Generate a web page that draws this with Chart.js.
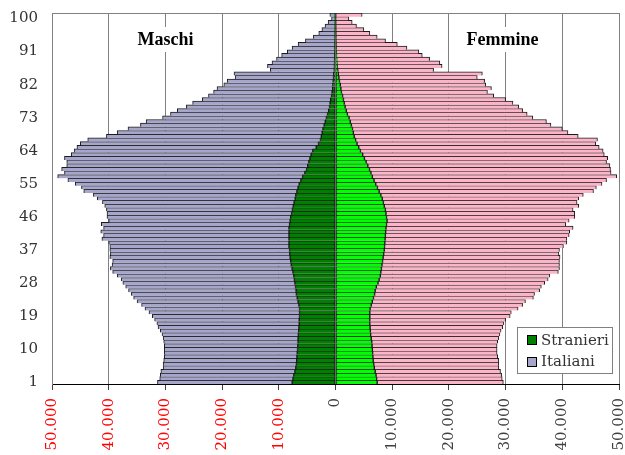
<!DOCTYPE html>
<html>
<head>
<meta charset="utf-8">
<script src="https://cdn.jsdelivr.net/npm/chart.js@4.4.1/dist/chart.umd.min.js"></script>
<style>
html,body{margin:0;padding:0;background:#fff;}
#wrap{width:625px;height:455px;}
</style>
</head>
<body>
<div id="wrap"><canvas id="c" width="625" height="455"></canvas></div>
<script>
// Categories: default Excel numbering 1..101 (ages 0..100+), bottom to top
const categories = Array.from({length: 101}, (_, i) => String(i + 1));
const tickLabels = ['1','10','19','28','37','46','55','64','73','82','91','100'];
const xTicks = [-50000,-40000,-30000,-20000,-10000,0,10000,20000,30000,40000,50000];

// Values listed from category "1" (bottom) to "101" (top)
const maschiStranieri = [
 7650,7500,7350,7150,7000,6900,6850,6800,6750,6700,
 6650,6600,6600,6550,6500,6450,6400,6400,6350,6350,
 6350,6450,6600,6750,6900,6950,7050,7150,7250,7350,
 7500,7650,7800,7900,8000,8050,8100,8200,8200,8200,
 8200,8200,8200,8100,8000,7900,7750,7600,7450,7300,
 7100,7000,6800,6600,6400,6100,5800,5400,5100,4900,
 4700,4500,4300,4000,3400,3000,2650,2500,2350,2200,
 2000,1800,1600,1400,1200,1050,950,850,700,600,
 500,450,400,350,300,210,190,170,150,130,
 110,100,90,80,70,60,50,40,30,20,
 30];
const maschiItaliani = [
 23750,23500,23550,23650,23400,23500,23450,23400,23450,23500,
 23550,23700,23800,24050,24400,24850,25100,25500,25950,26550,
 27250,27750,28400,28850,29100,29550,29950,30350,30550,31150,
 31800,32050,31600,31400,31800,31650,31700,31600,31800,33000,
 32700,33200,32700,33200,32000,32400,32550,32800,33250,33800,
 34900,35700,37600,38200,39500,41100,43200,42400,43200,42500,
 42700,43300,42300,42100,42200,42000,41050,37900,36150,34400,
 32400,31600,28900,27700,26700,25250,24250,22650,21700,20900,
 20400,19250,18700,17350,17600,11290,11810,11030,10250,9370,
 8390,7550,6510,5220,3830,2890,2350,1810,1270,680,
 970];
const femmineStranieri = [
 7350,7250,7150,7000,6850,6750,6650,6600,6550,6500,
 6450,6400,6300,6200,6150,6100,6050,6050,6050,6050,
 6100,6300,6500,6700,6900,7000,7200,7500,7700,7900,
 8000,8100,8200,8300,8400,8500,8600,8650,8700,8750,
 8800,8850,8900,9000,9100,9000,8900,8800,8600,8450,
 8250,8000,7700,7400,7100,6800,6500,6250,6000,5700,
 5400,5100,4800,4400,4100,3800,3550,3300,3150,3000,
 2800,2600,2400,2100,1900,1700,1550,1400,1250,1050,
 950,850,700,600,500,400,280,240,200,170,
 140,120,100,80,70,60,50,40,30,20,
 30];
const femmineItaliani = [
 22250,22150,22150,22100,21950,22050,22150,22000,21950,22000,
 22050,22200,22500,22800,23050,23400,23650,23950,24750,24950,
 26100,26700,27000,28200,28200,29000,29100,29400,29800,29900,
 31300,31400,31300,31200,31200,30900,30900,31550,32100,32050,
 32400,32450,33000,31600,32100,33200,33300,33100,34300,34150,
 34650,35700,37800,38600,39900,41000,43100,42350,42500,42700,
 42400,42900,42600,42800,42400,42100,42650,39500,37850,37000,
 35200,34600,32400,31700,31100,30600,29750,28600,26650,25750,
 26550,25650,25600,24400,25400,16900,18520,18160,16400,15130,
 14560,12480,10800,8740,7280,6000,4950,3660,2910,2330,
 4670];

const C_M_STR = '#008000', C_F_STR = '#00ff00', C_M_ITA = '#a5a6c9', C_F_ITA = '#fcb4c9';

function fmt(v){ return String(Math.abs(v)).replace(/\B(?=(\d{3})+(?!\d))/g, '.'); }

const barCommon = {
  stack: 'pop',
  borderColor: '#1a1a1a',
  borderWidth: {top: 1, bottom: 0, left: 1, right: 1},
  borderSkipped: false,
  barPercentage: 1,
  categoryPercentage: 1
};

const overlay = {
  id: 'overlay',
  beforeDatasetsDraw(chart) {
    const {ctx, chartArea: a} = chart;
    ctx.save();
    ctx.strokeStyle = '#808080';
    ctx.lineWidth = 1;
    ctx.beginPath();
    ctx.moveTo(a.left, Math.round(a.top) + 0.5);
    ctx.lineTo(a.right, Math.round(a.top) + 0.5);
    ctx.stroke();
    ctx.restore();
  },
  afterDatasetsDraw(chart) {
    const {ctx, chartArea: a, scales: {x}} = chart;
    ctx.save();
    ctx.font = 'bold 18px "Liberation Serif"';
    ctx.textAlign = 'center';
    ctx.textBaseline = 'middle';
    [[-30000, 'Maschi'], [30000, 'Femmine']].forEach(([v, t]) => {
      const cx = x.getPixelForValue(v) - (v > 0 ? 3 : 0);
      const cy = a.top + 26.5;
      const w = ctx.measureText(t).width;
      ctx.fillStyle = '#fff';
      ctx.fillRect(cx - w / 2 - 2, cy - 12.5, w + 4, 25);
      ctx.fillStyle = '#000';
      ctx.fillText(t, cx, cy + 1);
    });
    // legend box
    const lw = 95, lh = 46;
    const lx = Math.round(a.right - 102), ly = Math.round(a.bottom - 57);
    ctx.fillStyle = '#fff';
    ctx.fillRect(lx, ly, lw, lh);
    ctx.strokeStyle = '#808080';
    ctx.lineWidth = 1;
    ctx.strokeRect(lx + 0.5, ly + 0.5, lw, lh);
    const items = [['Stranieri', C_M_STR, 13], ['Italiani', C_M_ITA, 34.5]];
    ctx.font = '15px "DejaVu Serif"';
    ctx.textAlign = 'left';
    items.forEach(([t, col, dy]) => {
      const sy = Math.round(ly + dy - 5);
      ctx.fillStyle = col;
      ctx.fillRect(lx + 10, sy, 10, 10);
      ctx.strokeStyle = '#000';
      ctx.strokeRect(lx + 10.5, sy + 0.5, 9, 9);
      ctx.fillStyle = '#333';
      ctx.fillText(t, lx + 24, ly + dy + 1);
    });
    ctx.restore();
  }
};

new Chart(document.getElementById('c'), {
  type: 'bar',
  data: {
    labels: categories,
    datasets: [
      Object.assign({label: 'Stranieri', data: maschiStranieri.map(v => -v), backgroundColor: C_M_STR}, barCommon),
      Object.assign({label: 'Stranieri F', data: femmineStranieri, backgroundColor: C_F_STR}, barCommon),
      Object.assign({label: 'Italiani', data: maschiItaliani.map(v => -v), backgroundColor: C_M_ITA}, barCommon),
      Object.assign({label: 'Italiani F', data: femmineItaliani, backgroundColor: C_F_ITA}, barCommon)
    ]
  },
  options: {
    indexAxis: 'y',
    responsive: false,
    animation: false,
    layout: {padding: {top: 13, right: 6, left: 0, bottom: 0}},
    plugins: {legend: {display: false}, tooltip: {enabled: false}},
    scales: {
      x: {
        stacked: true,
        min: -50000, max: 50000,
        afterBuildTicks(scale) { scale.ticks = xTicks.map(v => ({value: v})); },
        afterFit(scale) { scale.height = 71; scale.paddingLeft = 0; scale.paddingRight = 0; },
        grid: {color: '#808080', tickLength: 6, tickColor: '#404040', lineWidth: 1},
        border: {color: '#000', width: 1},
        ticks: {
          autoSkip: false,
          minRotation: 90, maxRotation: 90,
          padding: 8,
          font: {family: '"DejaVu Serif"', size: 15},
          color: ctx => (ctx.tick && ctx.tick.value < 0) ? '#ff0000' : '#404040',
          callback: v => fmt(v)
        }
      },
      y: {
        stacked: true,
        reverse: true,
        afterFit(scale) { scale.width = 52; scale.paddingTop = 0; scale.paddingBottom = 0; },
        grid: {display: false, drawTicks: false},
        border: {color: '#808080', width: 1},
        ticks: {
          autoSkip: false,
          padding: 14,
          font: {family: '"DejaVu Serif"', size: 15},
          color: '#333',
          callback: function(v) {
            const l = this.getLabelForValue(v);
            return tickLabels.includes(l) ? l : '';
          }
        }
      }
    }
  },
  plugins: [overlay]
});
</script>
</body>
</html>
